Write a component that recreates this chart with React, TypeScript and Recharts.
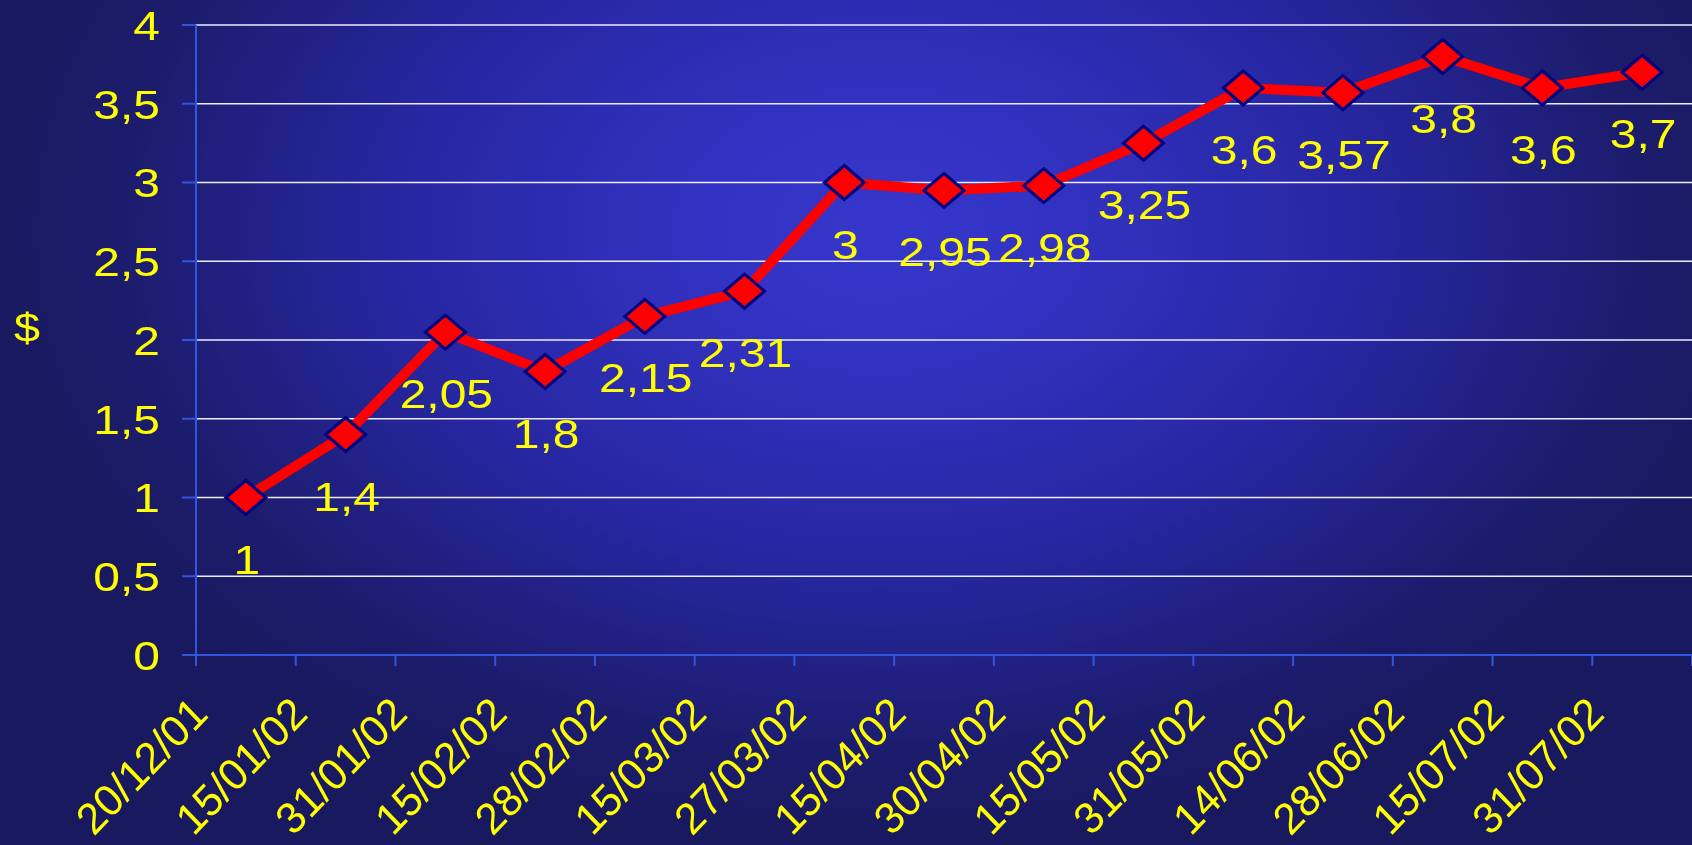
import { LineChart, Line, XAxis, YAxis, CartesianGrid, LabelList } from 'recharts'

const dates = [
  '20/12/01', '15/01/02', '31/01/02', '15/02/02', '28/02/02', '15/03/02', '27/03/02', '15/04/02',
  '30/04/02', '15/05/02', '31/05/02', '14/06/02', '28/06/02', '15/07/02', '31/07/02',
]
const prices = [1, 1.4, 2.05, 1.8, 2.15, 2.31, 3, 2.95, 2.98, 3.25, 3.6, 3.57, 3.8, 3.6, 3.7]
const yTicks = [0, 0.5, 1, 1.5, 2, 2.5, 3, 3.5, 4]

const data = dates.map((date, i) => ({ date, price: prices[i] }))

const CHART_W = 1692
const CHART_H = 845
const Y_AXIS_W = 196
const HALF_STEP = (CHART_W - Y_AXIS_W) / dates.length / 2

const YELLOW = '#ffff00'
const AXIS = '#3355dd'
const FONT = '"Liberation Sans", Arial, sans-serif'
const STRETCH = 1.17

const comma = (v: number | string) => String(v).replace('.', ',')

function DateTick(props: any) {
  const { x, y, payload, index } = props
  const axisY = y - 11
  return (
    <g>
      <line x1={x - HALF_STEP} x2={x - HALF_STEP} y1={axisY} y2={axisY + 11} stroke={AXIS} strokeWidth={2} />
      {index === dates.length - 1 && (
        <line x1={x + HALF_STEP} x2={x + HALF_STEP} y1={axisY} y2={axisY + 11} stroke={AXIS} strokeWidth={2} />
      )}
      <text
        transform={`translate(${x - 36},${axisY + 61}) scale(0.96,1) rotate(-45)`}
        textAnchor="end"
        fill={YELLOW}
        fontSize={44}
        fontFamily={FONT}
      >
        {payload.value}
      </text>
    </g>
  )
}

function ValueTick(props: any) {
  const { x, y, payload } = props
  return (
    <text
      transform={`translate(${x},${y}) scale(${STRETCH},1)`}
      dy="0.36em"
      textAnchor="end"
      fill={YELLOW}
      fontSize={41}
      fontFamily={FONT}
    >
      {comma(payload.value)}
    </text>
  )
}

function Diamond(props: any) {
  const { cx, cy, index } = props
  if (cx == null || cy == null) return <g key={index} />
  return (
    <polygon
      key={index}
      points={`${cx},${cy - 17} ${cx + 20},${cy} ${cx},${cy + 17} ${cx - 20},${cy}`}
      fill="#ff0000"
      stroke="#000080"
      strokeWidth={3}
    />
  )
}

function PriceLabel(props: any) {
  const { x, y, value } = props
  return (
    <text
      transform={`translate(${x + 1},${y + 76}) scale(1.2,1)`}
      textAnchor="middle"
      fill={YELLOW}
      fontSize={40}
      fontFamily={FONT}
    >
      {comma(value)}
    </text>
  )
}

function DollarLabel(props: any) {
  const vb = props.viewBox || { x: 0, y: 25, width: Y_AXIS_W, height: 630 }
  return (
    <text
      transform={`translate(${vb.x + 27},${vb.y + vb.height / 2 - 12}) scale(${STRETCH},1)`}
      dominantBaseline="central"
      textAnchor="middle"
      fill={YELLOW}
      fontSize={40}
      fontFamily={FONT}
    >
      $
    </text>
  )
}

export default function App() {
  return (
    <div
      style={{
        position: 'fixed',
        left: 0,
        top: 0,
        width: CHART_W,
        height: CHART_H,
        background:
          'radial-gradient(ellipse 900px 620px at 880px 230px, #3636cc 0%, #3232c2 20%, #2626a0 55%, #1c1c6c 85%, #191960 100%)',
      }}
    >
      <LineChart width={CHART_W} height={CHART_H} data={data} margin={{ top: 25, right: 0, left: 0, bottom: 0 }}>
        <CartesianGrid vertical={false} stroke="#ececff" strokeWidth={1.4} />
        <XAxis
          dataKey="date"
          scale="band"
          height={190}
          interval={0}
          tickLine={false}
          tickSize={11}
          tickMargin={0}
          axisLine={{ stroke: AXIS, strokeWidth: 2 }}
          tick={<DateTick />}
        />
        <YAxis
          width={Y_AXIS_W}
          domain={[0, 4]}
          ticks={yTicks}
          interval={0}
          tickSize={14}
          tickMargin={22}
          axisLine={{ stroke: AXIS, strokeWidth: 2 }}
          tickLine={{ stroke: AXIS, strokeWidth: 2 }}
          tick={<ValueTick />}
          label={{ content: <DollarLabel /> }}
        />
        <Line
          type="linear"
          dataKey="price"
          stroke="#ff0000"
          strokeWidth={10}
          dot={(p: any) => <Diamond {...p} />}
          activeDot={false}
          isAnimationActive={false}
        >
          <LabelList dataKey="price" content={<PriceLabel />} />
        </Line>
      </LineChart>
    </div>
  )
}
